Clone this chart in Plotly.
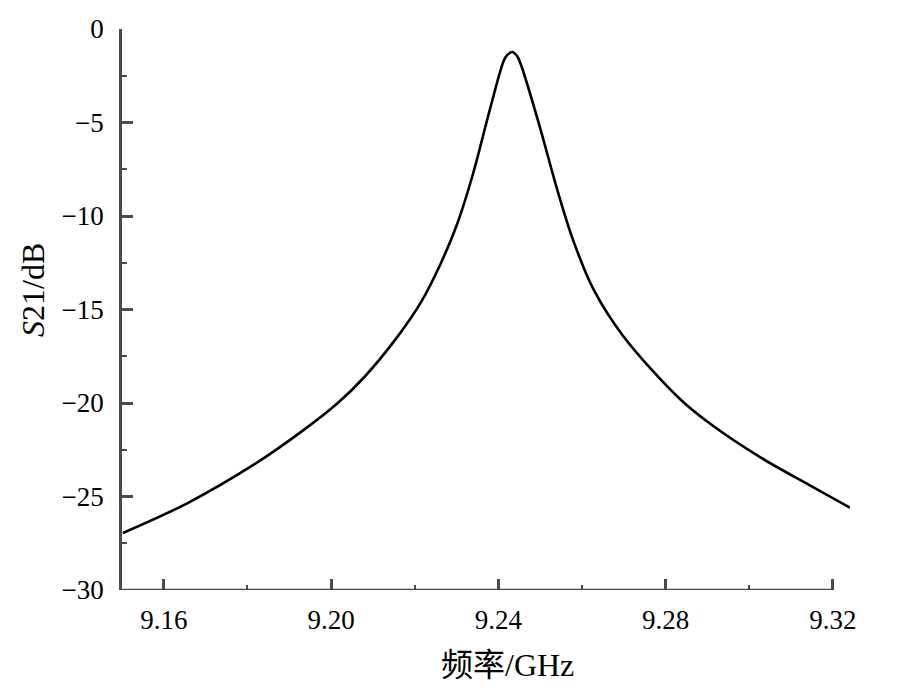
import plotly.graph_objects as go

freq_ghz = [9.1502, 9.1657, 9.1815, 9.1934, 9.2016, 9.2078, 9.2159, 9.2214,
            9.2262, 9.2302, 9.2340, 9.2381, 9.2413, 9.2421, 9.2433, 9.2445,
            9.2453, 9.2460, 9.2500, 9.2541, 9.2579, 9.2627, 9.2698, 9.2835,
            9.2906, 9.3026, 9.3145, 9.3241]
s21_db = [-26.95, -25.35, -23.3, -21.45, -20.0, -18.65, -16.45, -14.65,
          -12.55, -10.4, -7.7, -4.2, -1.7, -1.4, -1.23, -1.45,
          -1.85, -2.3, -5.3, -8.6, -11.3, -13.9, -16.4, -19.8,
          -21.1, -22.9, -24.4, -25.6]
x_ticks = [9.16, 9.20, 9.24, 9.28, 9.32]
x_tick_labels = ["9.16", "9.20", "9.24", "9.28", "9.32"]
y_ticks = [0, -5, -10, -15, -20, -25, -30]
x_title = "频率/GHz"
y_title = "<i>S</i>21/dB"

font_family = "Liberation Serif, Noto Sans CJK SC, serif"
axis_color = "#4a4a4a"

fig = go.Figure()
fig.add_trace(go.Scatter(
    x=freq_ghz, y=s21_db, mode="lines",
    line=dict(color="black", width=2.6, shape="spline", smoothing=1.0),
    showlegend=False, hoverinfo="skip",
))

fig.add_shape(type="line", xref="x", yref="y",
              x0=9.15, x1=9.32, y0=-30, y1=-30,
              line=dict(color=axis_color, width=2.5))

fig.add_annotation(text=x_title, xref="paper", yref="paper",
                   x=0.529, y=-0.1337, xanchor="center", yanchor="middle",
                   showarrow=False, font=dict(size=32, family=font_family))
fig.add_annotation(text=y_title, xref="paper", yref="paper",
                   x=-0.1223, y=0.5348, xanchor="center", yanchor="middle",
                   textangle=-90, showarrow=False,
                   font=dict(size=32, family=font_family))

fig.update_layout(
    width=914, height=690,
    margin=dict(l=114, r=72, t=21, b=108),
    paper_bgcolor="white", plot_bgcolor="white",
    font=dict(family=font_family, size=27, color="black"),
    showlegend=False,
)
fig.update_xaxes(
    range=[9.15, 9.3241], showgrid=False, zeroline=False, showline=False,
    automargin=False,
    tickmode="array", tickvals=x_ticks, ticktext=x_tick_labels,
    ticks="inside", ticklen=11, tickwidth=2.5, tickcolor=axis_color,
    minor=dict(tickmode="array", tickvals=[9.18, 9.22, 9.26, 9.30],
               ticks="inside", ticklen=5, tickwidth=2, tickcolor=axis_color),
    ticklabelstandoff=11,
)
fig.update_yaxes(
    range=[-30, 0], showgrid=False, zeroline=False,
    showline=True, linecolor=axis_color, linewidth=2.5,
    automargin=False,
    tickmode="array", tickvals=y_ticks,
    ticks="inside", ticklen=11, tickwidth=2.5, tickcolor=axis_color,
    minor=dict(tickmode="array", tickvals=[-2.5, -7.5, -12.5, -17.5, -22.5, -27.5],
               ticks="inside", ticklen=5, tickwidth=2, tickcolor=axis_color),
    ticklabelstandoff=10,
)

fig.write_html("out.html")
